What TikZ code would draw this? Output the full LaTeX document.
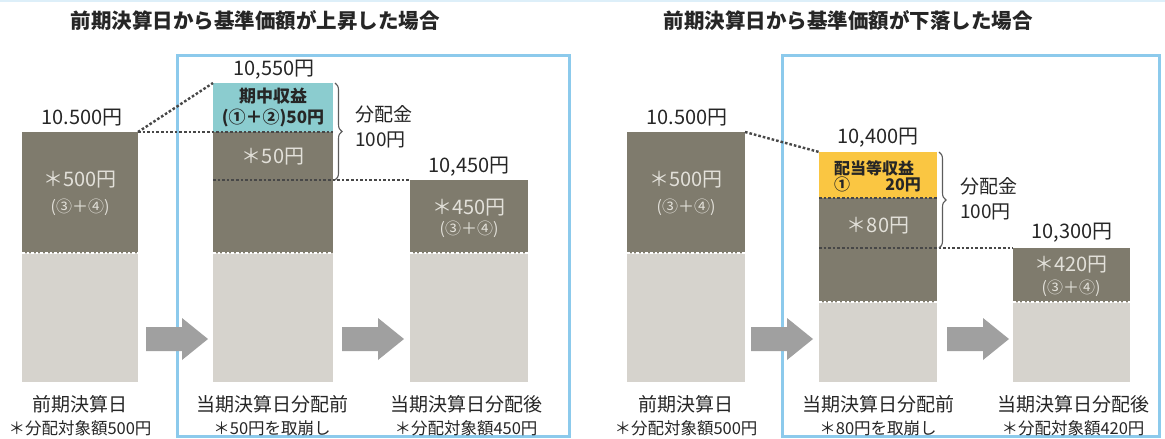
\documentclass[tikz,border=0pt]{standalone}
\usepackage{fontspec}
\setmainfont{Noto Sans CJK JP}
\usetikzlibrary{decorations.pathreplacing}
\definecolor{barDark}{RGB}{127,123,109}
\definecolor{barLight}{RGB}{214,211,205}
\definecolor{gainTeal}{RGB}{139,204,207}
\definecolor{divGold}{RGB}{250,198,66}
\definecolor{frameBlue}{RGB}{140,202,236}
\definecolor{arrowGray}{RGB}{160,160,160}
\definecolor{inText}{RGB}{226,224,217}
\definecolor{outText}{RGB}{38,38,38}

\begin{document}
\begin{tikzpicture}[x=1pt,y=-1pt,
    seg/.style={rectangle,inner sep=0pt,outer sep=0pt,anchor=north west},
    ttl/.style={text=outText,inner sep=0pt,font=\fontsize{20.5}{22}\selectfont\bfseries},
    val/.style={text=outText,inner sep=0pt,font=\fontsize{20}{22}\selectfont},
    amt/.style={text=inText,inner sep=0pt,font=\fontsize{20}{22}\selectfont},
    src/.style={text=inText,inner sep=0pt,font=\fontsize{16}{17}\selectfont},
    daylbl/.style={text=outText,inner sep=0pt,font=\fontsize{19}{20}\selectfont},
    notelbl/.style={text=outText,inner sep=0pt,font=\fontsize{16.5}{18}\selectfont},
    boxlbl/.style={text=outText,inner sep=0pt,align=left,font=\bfseries},
    darkdash/.style={outText!85,line width=2.4pt,dash pattern=on 2.6pt off 2pt},
    whitedash/.style={white,line width=2.2pt,dash pattern=on 2.6pt off 2pt},
    brc/.style={outText!75,line width=1.1pt,decorate,decoration={brace,amplitude=7pt}}]
  \useasboundingbox (0,0) rectangle (1165,439);
  \fill[white] (0,0) rectangle (1165,439);
  \draw[frameBlue!30,line width=2pt] (0,1) -- (1165,1);

  % titles and frames
  \node[ttl] (ttlUp) at (255,21) {前期決算日から基準価額が上昇した場合};
  \node[ttl] (ttlDown) at (848,21) {前期決算日から基準価額が下落した場合};
  \draw[frameBlue,line width=3pt] (177,55) rectangle (569,436);
  \draw[frameBlue,line width=3pt] (782,55) rectangle (1159,436);

  % rising case
  \node[seg,fill=barDark,minimum width=116pt,minimum height=121pt] (upPrevTop) at (22,132) {};
  \node[seg,fill=barLight,minimum width=116pt,minimum height=129pt] (upPrevBase) at (22,253) {};
  \node[seg,fill=gainTeal,minimum width=120pt,minimum height=49pt] (upPreGain) at (213,83) {};
  \node[seg,fill=barDark,minimum width=120pt,minimum height=121pt] (upPreTop) at (213,132) {};
  \node[seg,fill=barLight,minimum width=120pt,minimum height=129pt] (upPreBase) at (213,253) {};
  \node[seg,fill=barDark,minimum width=118pt,minimum height=73pt] (upPostTop) at (410,180) {};
  \node[seg,fill=barLight,minimum width=118pt,minimum height=129pt] (upPostBase) at (410,253) {};

  % falling case
  \node[seg,fill=barDark,minimum width=118pt,minimum height=121pt] (dnPrevTop) at (627,132) {};
  \node[seg,fill=barLight,minimum width=118pt,minimum height=129pt] (dnPrevBase) at (627,253) {};
  \node[seg,fill=divGold,minimum width=118pt,minimum height=46pt] (dnPreDiv) at (819,152) {};
  \node[seg,fill=barDark,minimum width=118pt,minimum height=104pt] (dnPreTop) at (819,198) {};
  \node[seg,fill=barLight,minimum width=118pt,minimum height=80pt] (dnPreBase) at (819,302) {};
  \node[seg,fill=barDark,minimum width=117pt,minimum height=54pt] (dnPostTop) at (1013,248) {};
  \node[seg,fill=barLight,minimum width=117pt,minimum height=80pt] (dnPostBase) at (1013,302) {};

  \foreach \b in {upPrevBase,upPreBase,upPostBase,dnPrevBase,dnPreBase,dnPostBase}
    \draw[whitedash] (\b.north west) -- (\b.north east);

  % dotted guides
  \draw[darkdash] (upPrevTop.north east) -- (upPreGain.north west);
  \draw[darkdash] (upPrevTop.north east) -- (upPreTop.north east);
  \coordinate (upCut) at (upPreTop.west |- upPostTop.north);
  \draw[darkdash] (upCut) -- (upPostTop.north west);
  \draw[darkdash] (dnPrevTop.north east) -- (dnPreDiv.north west);
  \draw[darkdash] (dnPreTop.north west) -- (dnPreTop.north east);
  \coordinate (dnCut) at (dnPreTop.west |- dnPostTop.north);
  \draw[darkdash] (dnCut) -- (dnPostTop.north west);

  % braces
  \coordinate (upBrEnd) at (upPreTop.east |- upPostTop.north);
  \draw[brc] ([xshift=2pt]upPreGain.north east) -- ([xshift=2pt]upBrEnd);
  \coordinate (dnBrEnd) at (dnPreTop.east |- dnPostTop.north);
  \draw[brc] ([xshift=2pt]dnPreDiv.north east) -- ([xshift=2pt]dnBrEnd);
  \node[val,anchor=west,align=left,font=\fontsize{19}{25}\selectfont] (upPay) at (355,127) {分配金\\100円};
  \node[val,anchor=west,align=left,font=\fontsize{19}{25}\selectfont] (dnPay) at (960,199) {分配金\\100円};

  % step arrows
  \foreach \x in {146,342,751,947}
    \fill[arrowGray] (\x,327) -- (\x+36,327) -- (\x+36,318) -- (\x+62,339)
      -- (\x+36,360) -- (\x+36,351) -- (\x,351) -- cycle;

  % values above bars
  \node[val] (upPrevVal) at (82,118) {10.500円};
  \node[val] (upPreVal) at (274,70) {10,550円};
  \node[val] (upPostVal) at (469,167) {10,450円};
  \node[val] (dnPrevVal) at (687,118) {10.500円};
  \node[val] (dnPreVal) at (878,138) {10,400円};
  \node[val] (dnPostVal) at (1072,233) {10,300円};

  % texts inside bars
  \node[amt] (upPrevAmt) at (80,180) {＊500円};
  \node[src] (upPrevSrc) at (80,207) {(③＋④)};
  \node[boxlbl,align=center,font=\fontsize{17}{21}\selectfont\bfseries] (upGainLbl) at (273,107) {期中収益\\(①＋②)50円};
  \node[amt] (upPreAmt) at (273,157) {＊50円};
  \node[amt] (upPostAmt) at (469,208) {＊450円};
  \node[src] (upPostSrc) at (469,229) {(③＋④)};
  \node[amt] (dnPrevAmt) at (686,180) {＊500円};
  \node[src] (dnPrevSrc) at (686,207) {(③＋④)};
  \node[boxlbl,anchor=west,font=\fontsize{16}{16}\selectfont\bfseries] (dnDivLbl) at (834,176) {配当等収益\\①\hspace{2.2em}20円};
  \node[amt] (dnPreAmt) at (878,226) {＊80円};
  \node[amt] (dnPostAmt) at (1071,265) {＊420円};
  \node[src] (dnPostSrc) at (1071,288) {(③＋④)};

  % captions
  \node[daylbl] (upPrevDay) at (80,404) {前期決算日};
  \node[notelbl] (upPrevNote) at (80,428) {＊分配対象額500円};
  \node[daylbl] (upPreDay) at (272,404) {当期決算日分配前};
  \node[notelbl] (upPreNote) at (272,428) {＊50円を取崩し};
  \node[daylbl] (upPostDay) at (466,404) {当期決算日分配後};
  \node[notelbl] (upPostNote) at (466,428) {＊分配対象額450円};
  \node[daylbl] (dnPrevDay) at (686,404) {前期決算日};
  \node[notelbl] (dnPrevNote) at (686,428) {＊分配対象額500円};
  \node[daylbl] (dnPreDay) at (878,404) {当期決算日分配前};
  \node[notelbl] (dnPreNote) at (878,428) {＊80円を取崩し};
  \node[daylbl] (dnPostDay) at (1073,404) {当期決算日分配後};
  \node[notelbl] (dnPostNote) at (1073,428) {＊分配対象額420円};
\end{tikzpicture}
\end{document}
